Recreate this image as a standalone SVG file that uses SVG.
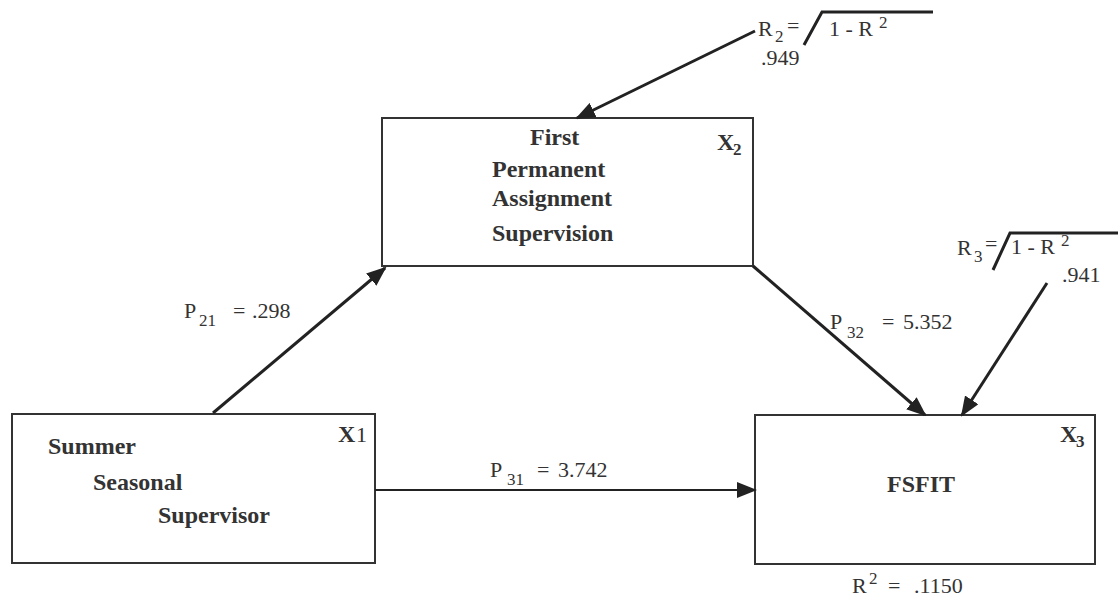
<svg xmlns="http://www.w3.org/2000/svg" width="1118" height="601" viewBox="0 0 1118 601">
<defs>
<marker id="ahb" markerWidth="20" markerHeight="16" refX="18" refY="8" orient="auto" markerUnits="userSpaceOnUse" viewBox="0 0 20 16">
<path d="M0,0 L20,8 L0,16 z" fill="#222"/>
</marker>
<style>
.box{fill:none;stroke:#333;stroke-width:2}
.nt{font-family:"Liberation Serif",serif;font-weight:bold;font-size:24px;fill:#333}
.xl{font-family:"Liberation Serif",serif;font-weight:bold;font-size:24px;fill:#333}
.lb{font-family:"Liberation Serif",serif;font-size:22px;fill:#333}
.sb{font-family:"Liberation Serif",serif;font-size:17px;fill:#333}
.ln{stroke:#222;stroke-width:3;fill:none}
.thin{stroke:#222;stroke-width:2;fill:none}
</style>
</defs>
<rect width="1118" height="601" fill="#fff"/>
<g id="node-x2">
<rect class="box" x="382" y="118" width="371" height="148"/>
<text class="nt" x="530" y="145">First</text>
<text class="nt" x="492" y="177">Permanent</text>
<text class="nt" x="492" y="206">Assignment</text>
<text class="nt" x="492" y="241">Supervision</text>
<text class="xl" x="717" y="150">X</text>
<text class="sb" x="733" y="155" font-weight="bold">2</text>
</g>
<g id="node-x1">
<rect class="box" x="12" y="414" width="363" height="149"/>
<text class="nt" x="48" y="454">Summer</text>
<text class="nt" x="93" y="490">Seasonal</text>
<text class="nt" x="158" y="523">Supervisor</text>
<text class="xl" x="338" y="442">X</text>
<text class="lb" x="356" y="442" font-size="20">1</text>
</g>
<g id="node-x3">
<rect class="box" x="755" y="415" width="340" height="149"/>
<text class="nt" x="887" y="492">FSFIT</text>
<text class="xl" x="1060" y="442">X</text>
<text class="sb" x="1076" y="447" font-weight="bold">3</text>
</g>
<g id="connectors">
<line class="ln" x1="213" y1="413" x2="385" y2="268" marker-end="url(#ahb)"/>
<line class="ln" x1="753" y1="266" x2="925" y2="415" marker-end="url(#ahb)"/>
<line class="ln" x1="755" y1="31" x2="577" y2="118" marker-end="url(#ahb)"/>
<line class="ln" x1="1047" y1="283" x2="962" y2="415" marker-end="url(#ahb)"/>
<line class="thin" x1="375" y1="490" x2="755" y2="490" marker-end="url(#ahb)"/>
</g>
<g id="labels">
<text class="lb" x="184" y="318">P</text><text class="sb" x="199" y="326">21</text><text class="lb" x="233" y="318">=</text><text class="lb" x="252" y="318">.298</text>
<text class="lb" x="830" y="329">P</text><text class="sb" x="847" y="338">32</text><text class="lb" x="882" y="329">=</text><text class="lb" x="903" y="329">5.352</text>
<text class="lb" x="490" y="477">P</text><text class="sb" x="507" y="485">31</text><text class="lb" x="537" y="477">=</text><text class="lb" x="558" y="477">3.742</text>
<text class="lb" x="852" y="593">R</text><text class="sb" x="869" y="584">2</text><text class="lb" x="888" y="593">=</text><text class="lb" x="914" y="593">.1150</text>
<text class="lb" x="758" y="36">R</text><text class="sb" x="775" y="42">2</text><text class="lb" x="787" y="33">=</text>
<path class="ln" d="M804,45 L822,12 L933,12"/>
<text class="lb" x="829" y="36">1 - R</text><text class="sb" x="879" y="28">2</text>
<text class="lb" x="761" y="65">.949</text>
<text class="lb" x="957" y="255">R</text><text class="sb" x="974" y="262">3</text><text class="lb" x="985" y="251">=</text>
<path class="ln" d="M993,270 L1010,233 L1118,233"/>
<text class="lb" x="1011" y="254">1 - R</text><text class="sb" x="1061" y="246">2</text>
<text class="lb" x="1062" y="282">.941</text>
</g>
</svg>
